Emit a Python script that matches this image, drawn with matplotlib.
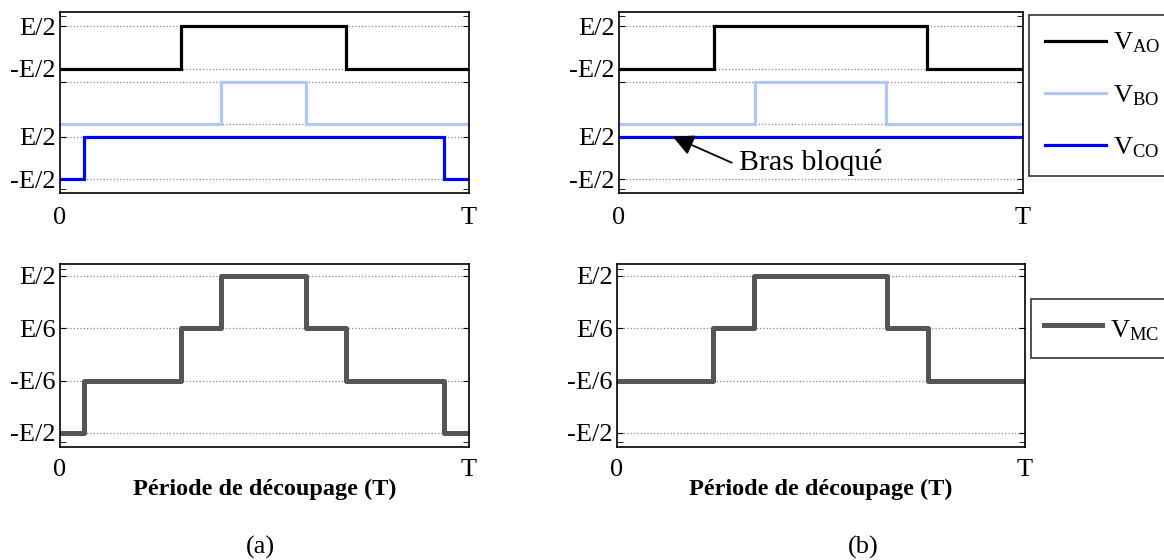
import numpy as np
import matplotlib.pyplot as plt

plt.rcParams['font.family'] = ['Liberation Serif', 'DejaVu Serif']
plt.rcParams['mathtext.fontset'] = 'custom'
plt.rcParams['mathtext.rm'] = 'Liberation Serif'
plt.rcParams['mathtext.it'] = 'Liberation Serif:italic'

# switching instants (fraction of T), rise / fall of each leg
va_a = [0.295, 0.700]
vb_a = [0.393, 0.602]
vc_a = [0.058, 0.940]

va_b = [0.236, 0.762]
vb_b = [0.337, 0.661]
vc_b = None   # bras bloque -> stays at +E/2

labels_top = ['V$_{\\rm AO}$', 'V$_{\\rm BO}$', 'V$_{\\rm CO}$']
colors_top = ['#000000', '#b0c8f8', '#0000ff']
ytl_top = ['-E/2', 'E/2', '', '', '-E/2', 'E/2']
ytl_bot = ['-E/2', '-E/6', 'E/6', 'E/2']
xtl = ['0', 'T']

FS = 19
W, H = 1164, 560
off = 1.3   # vertical gap between the three stacked legs


def leg(sw):
    """square wave in +-1/2 with rising edge sw[0] and falling edge sw[1]"""
    if sw is None:
        return np.array([0, 1]), np.array([0.5, 0.5])
    t = np.array([0, sw[0], sw[0], sw[1], sw[1], 1])
    v = np.array([-0.5, -0.5, 0.5, 0.5, -0.5, -0.5])
    return t, v


def sample(sw, t):
    if sw is None:
        return np.full_like(t, 0.5)
    return np.where((t >= sw[0]) & (t < sw[1]), 0.5, -0.5)


def frame(ax, xpad):
    ax.set_xlim(0, 1)
    ax.set_xticks([0, 1])
    ax.set_xticklabels(xtl, fontsize=FS)
    ax.tick_params(axis='x', length=0, pad=xpad)
    ax.tick_params(axis='y', direction='in', right=True, length=4,
                   labelsize=FS, pad=3)
    ax.tick_params(axis='y', which='minor', direction='in', right=True, length=4)
    ax.grid(axis='y', linestyle=':', color='#888888', linewidth=0.9)
    for s in ax.spines.values():
        s.set_linewidth(1.2)


def axes_px(left, top, right, bottom):
    return fig.add_axes([left / W, 1 - bottom / H, (right - left) / W, (bottom - top) / H])


fig = plt.figure(figsize=(W / 100, H / 100), dpi=100)

cols = [
    (va_a, vb_a, vc_a, 60, 469, 60, 469),
    (va_b, vb_b, vc_b, 619, 1023, 617, 1025),
]

for k, (va, vb, vc, l1, r1, l2, r2) in enumerate(cols):
    ax = axes_px(l1, 12, r1, 193)
    lines = []
    for i, sw in enumerate([va, vb, vc]):
        t, v = leg(sw)
        ln, = ax.plot(t, v + 0.5 + off * (2 - i), color=colors_top[i],
                      lw=2.3, solid_joinstyle='miter')
        lines.append(ln)
    ax.set_ylim(-0.33, 3.94)
    ax.set_yticks([0, 1, off, off + 1, 2 * off, 2 * off + 1])
    ax.set_yticklabels(ytl_top)
    ax.set_yticks([-0.23, 3.84], minor=True)
    frame(ax, 10)
    if k == 1:
        ax.annotate('', xy=(0.133, 1.0), xytext=(0.279, 0.385),
                    arrowprops=dict(arrowstyle='-|>', color='black', lw=1.3,
                                    mutation_scale=32, shrinkA=0, shrinkB=0))
        ax.text(0.297, 0.385, 'Bras bloqué', fontsize=21.5, va='center', ha='left')
        lg = fig.legend(lines, labels_top, loc='upper left',
                        bbox_to_anchor=(1029 / W, 1 - 15 / H), fontsize=FS,
                        frameon=True, fancybox=False, edgecolor='black',
                        handlelength=2.3, labelspacing=1.05, borderaxespad=0,
                        handletextpad=0.3, borderpad=0.6)
        lg.get_frame().set_linewidth(1.2)

    # common-mode voltage = mean of the three legs
    tt = np.unique(np.concatenate([[0, 1]] + [np.array(s) for s in (va, vb, vc) if s is not None]))
    vm = (sample(va, tt) + sample(vb, tt) + sample(vc, tt)) / 3
    ax2 = axes_px(l2, 264, r2, 447)
    lm, = ax2.step(tt, vm, where='post', color='#555555', lw=3.6)
    ax2.set_ylim(-0.59, 0.575)
    ax2.set_yticks([-0.5, -1 / 6, 1 / 6, 0.5])
    ax2.set_yticklabels(ytl_bot)
    ax2.set_yticks([-0.555, 0.545], minor=True)
    frame(ax2, 9)
    ax2.set_xlabel('Période de découpage (T)', fontsize=17.5, fontweight='bold',
                   labelpad=-2)
    if k == 1:
        lg2 = fig.legend([lm], ['V$_{\\rm MC}$'], loc='upper left',
                         bbox_to_anchor=(1031 / W, 1 - 299 / H), fontsize=FS,
                         frameon=True, fancybox=False, edgecolor='black',
                         handlelength=2.2, handleheight=1.5, borderaxespad=0,
                         handletextpad=0.3, borderpad=0.5)
        lg2.get_frame().set_linewidth(1.2)

fig.text(260 / W, 1 - 547 / H, '(a)', fontsize=FS, ha='center', va='center')
fig.text(863 / W, 1 - 547 / H, '(b)', fontsize=FS, ha='center', va='center')

fig.savefig('out.png', dpi=100)
